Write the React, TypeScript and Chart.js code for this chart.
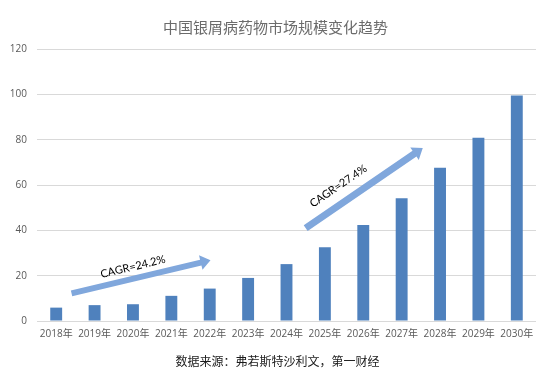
import React, { useEffect, useRef } from "react";
import { Chart, registerables } from "chart.js";

Chart.register(...registerables);

const categories = [
  "2018年", "2019年", "2020年", "2021年", "2022年", "2023年", "2024年",
  "2025年", "2026年", "2027年", "2028年", "2029年", "2030年",
];
const marketSize = [5.9, 7.0, 7.4, 11.1, 14.3, 19.0, 25.1, 32.5, 42.3, 54.1, 67.6, 80.9, 99.5];
const yMin = 0;
const yMax = 120;
const yStep = 20;
const titleText = "中国银屑病药物市场规模变化趋势";
const sourceText = "数据来源：弗若斯特沙利文，第一财经";
const cagrLabels = ["CAGR=24.2%", "CAGR=27.4%"];
// arrow annotations in data space: [categoryIndex, value]
const arrowTails = [[0.4, 12.2], [6.5, 41.0]];
const arrowTips = [[4.02, 26.8], [9.55, 76.3]];
const labelAnchors = [[2.0, 23.9], [7.35, 59.5]];

const BAR_COLOR = "#4F81BD";
const ARROW_COLOR = "#80A7DC";
const GRID_COLOR = "#D9D9D9";
const TICK_COLOR = "#595959";

const decorPlugin = {
  id: "decor",
  afterDatasetsDraw(chart: any) {
    const { ctx, scales } = chart;
    const xs = scales.x;
    const ys = scales.y;
    const W = chart.width;
    ctx.save();
    // title
    ctx.fillStyle = "#6B6B6B";
    ctx.font = '15px "Noto Sans CJK SC", sans-serif';
    ctx.textAlign = "center";
    ctx.textBaseline = "middle";
    ctx.fillText(titleText, W / 2 - 3, 27.5);
    // source
    ctx.fillStyle = "#1a1a1a";
    ctx.font = '12px "Noto Sans CJK SC", sans-serif';
    ctx.fillText(sourceText, W / 2 - 1, 361);

    const px = (p: number[]) => [xs.getPixelForValue(p[0]), ys.getPixelForValue(p[1])];
    const widths = [6, 7];
    arrowTails.forEach((tail, i) => {
      const [x0, y0] = px(tail);
      const [x1, y1] = px(arrowTips[i]);
      const dx = x1 - x0;
      const dy = y1 - y0;
      const len = Math.hypot(dx, dy);
      const ux = dx / len, uy = dy / len;
      const nx = -uy, ny = ux;
      const w = widths[i] / 2;
      const hw = 7.5;
      const hl = 10;
      const bx = x1 - ux * hl, by = y1 - uy * hl;
      ctx.beginPath();
      ctx.moveTo(x0 + nx * w, y0 + ny * w);
      ctx.lineTo(bx + nx * w, by + ny * w);
      ctx.lineTo(bx + nx * hw, by + ny * hw);
      ctx.lineTo(x1, y1);
      ctx.lineTo(bx - nx * hw, by - ny * hw);
      ctx.lineTo(bx - nx * w, by - ny * w);
      ctx.lineTo(x0 - nx * w, y0 - ny * w);
      ctx.closePath();
      ctx.fillStyle = ARROW_COLOR;
      ctx.fill();

      const [tx, ty] = px(labelAnchors[i]);
      ctx.save();
      ctx.translate(tx, ty);
      ctx.rotate(Math.atan2(dy, dx));
      ctx.fillStyle = "#000000";
      ctx.font = '11px Lato, "Liberation Sans", sans-serif';
      ctx.textAlign = "center";
      ctx.textBaseline = "middle";
      ctx.fillText(cagrLabels[i], 0, 0);
      ctx.restore();
    });
    ctx.restore();
  },
};

export default function App() {
  const ref = useRef<HTMLCanvasElement | null>(null);
  useEffect(() => {
    if (!ref.current) return;
    const chart = new Chart(ref.current, {
      type: "bar",
      data: {
        labels: categories,
        datasets: [
          {
            data: marketSize,
            backgroundColor: BAR_COLOR,
            borderWidth: 0,
            barPercentage: 0.31,
            categoryPercentage: 1.0,
          },
        ],
      },
      options: {
        responsive: false,
        animation: false,
        devicePixelRatio: 1,
        layout: { padding: { top: 49, right: 21, left: 0, bottom: 0 } },
        plugins: {
          legend: { display: false },
          tooltip: { enabled: false },
          title: { display: false },
        },
        scales: {
          x: {
            grid: { display: false, drawTicks: false },
            border: { display: false },
            ticks: {
              color: TICK_COLOR,
              font: { size: 10, family: '"Open Sans", "Noto Sans CJK SC", sans-serif' },
              padding: 7,
              maxRotation: 0,
              autoSkip: false,
            },
            afterFit: (s: any) => {
              s.height = 61;
            },
          },
          y: {
            min: yMin,
            max: yMax,
            grid: { color: GRID_COLOR, drawTicks: false, lineWidth: 1 },
            border: { display: false },
            ticks: {
              stepSize: yStep,
              color: TICK_COLOR,
              font: { size: 10, family: '"Open Sans", sans-serif' },
              padding: 10,
            },
            afterFit: (s: any) => {
              s.width = 37;
            },
          },
        },
      },
      plugins: [decorPlugin],
    });
    return () => chart.destroy();
  }, []);
  return (
    <div style={{ position: "absolute", left: 0, top: 0, width: 557, height: 382, background: "#fff" }}>
      <canvas ref={ref} width={557} height={382} style={{ width: 557, height: 382 }} />
    </div>
  );
}
